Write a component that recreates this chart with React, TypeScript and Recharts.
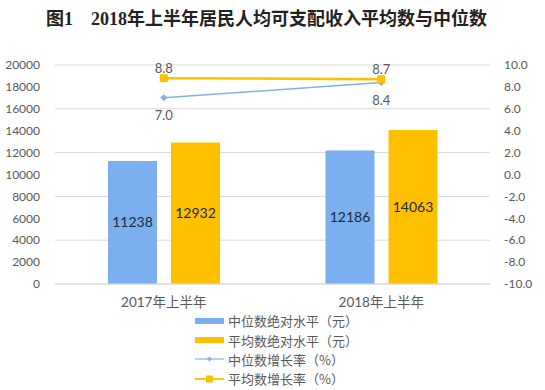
import React from 'react'
import { ComposedChart, Bar, Line, XAxis, YAxis, CartesianGrid, LabelList } from 'recharts'

const categories = ['2017年上半年', '2018年上半年']
const medianIncome = [11238, 12186]
const meanIncome = [12932, 14063]
const medianGrowth = [7.0, 8.4]
const meanGrowth = [8.8, 8.7]

const leftTicks = [0, 2000, 4000, 6000, 8000, 10000, 12000, 14000, 16000, 18000, 20000]
const rightTicks = [-10, -8, -6, -4, -2, 0, 2, 4, 6, 8, 10]

const seriesNames = ['中位数绝对水平（元）', '平均数绝对水平（元）', '中位数增长率（%）', '平均数增长率（%）']

const BLUE = '#7CAFEF'
const GOLD = '#FFC000'
const BLUE_LINE = '#82B0EA'
const GRID = '#d9d9d9'
const TEXT = '#595959'
const NUM_FONT = 'Lato, "Noto Sans CJK SC", sans-serif'

const data = categories.map((name, i) => ({
  name,
  median: medianIncome[i],
  mean: meanIncome[i],
  medianRate: medianGrowth[i],
  meanRate: meanGrowth[i],
}))

const DiamondDot = (props: { cx?: number; cy?: number; index?: number }) => {
  const { cx = 0, cy = 0 } = props
  const r = 3.5
  return <path key={`d-${props.index}`} d={`M${cx},${cy - r}L${cx + r},${cy}L${cx},${cy + r}L${cx - r},${cy}Z`} fill={BLUE_LINE} />
}

const SquareDot = (props: { cx?: number; cy?: number; index?: number }) => {
  const { cx = 0, cy = 0 } = props
  return <rect key={`s-${props.index}`} x={cx - 4} y={cy - 4} width={8} height={8} fill={GOLD} />
}

function LegendIcon({ index }: { index: number }) {
  if (index === 0 || index === 1) {
    return (
      <svg width={29} height={10}>
        <rect x={0} y={2} width={29} height={6} fill={index === 0 ? BLUE : GOLD} />
      </svg>
    )
  }
  const color = index === 2 ? BLUE_LINE : GOLD
  return (
    <svg width={29} height={10}>
      <line x1={0} y1={5} x2={29} y2={5} stroke={color} strokeWidth={index === 2 ? 1.2 : 1.8} />
      {index === 2 ? (
        <path d="M14.5,2.5L17,5L14.5,7.5L12,5Z" fill={color} />
      ) : (
        <rect x={11} y={1.5} width={7} height={7} fill={color} />
      )}
    </svg>
  )
}

export default function App() {
  const fmt = (v: unknown) => Number(v).toFixed(1)

  return (
    <div style={{ position: 'relative', width: 545, height: 390, background: '#fff' }}>
      <style>{`body{margin:0}`}</style>
      <div
        style={{
          position: 'absolute',
          left: 46,
          top: 4,
          fontFamily: '"Liberation Serif", "Noto Sans CJK SC", serif',
          fontWeight: 'bold',
          fontSize: 18,
          color: '#222',
          whiteSpace: 'pre',
        }}
      >
        {'图1\u30002018年上半年居民人均可支配收入平均数与中位数'}
      </div>

      <ComposedChart
        width={545}
        height={390}
        data={data}
        barGap={14}
        margin={{ top: 65, right: 0, bottom: 76, left: 0 }}
      >
        <CartesianGrid vertical={false} stroke={GRID} yAxisId="left" />
        <XAxis
          dataKey="name"
          tickLine={false}
          tickSize={0}
          tickMargin={13}
          height={30}
          axisLine={{ stroke: GRID }}
          tick={{ fill: TEXT, fontSize: 13.5, fontFamily: NUM_FONT }}
        />
        <YAxis
          yAxisId="left"
          width={55}
          domain={[0, 20000]}
          ticks={leftTicks}
          axisLine={false}
          tickLine={false}
          tickSize={0}
          tickMargin={15}
          tick={{ fill: TEXT, fontSize: 12, fontFamily: NUM_FONT }}
        />
        <YAxis
          yAxisId="right"
          orientation="right"
          width={55}
          domain={[-10, 10]}
          ticks={rightTicks}
          tickFormatter={fmt}
          axisLine={false}
          tickLine={false}
          tickSize={0}
          tickMargin={14}
          tick={{ fill: TEXT, fontSize: 12, fontFamily: NUM_FONT, textAnchor: 'start' }}
        />
        <Bar yAxisId="left" dataKey="median" fill={BLUE} barSize={49} isAnimationActive={false}>
          <LabelList dataKey="median" position="center" fill="#1d2a3a" fontSize={14} fontFamily={NUM_FONT} />
        </Bar>
        <Bar yAxisId="left" dataKey="mean" fill={GOLD} barSize={49} isAnimationActive={false}>
          <LabelList dataKey="mean" position="center" fill="#1d2a3a" fontSize={14} fontFamily={NUM_FONT} />
        </Bar>
        <Line
          yAxisId="right"
          dataKey="medianRate"
          stroke={BLUE_LINE}
          strokeWidth={1.5}
          dot={<DiamondDot />}
          activeDot={false}
          isAnimationActive={false}
        >
          <LabelList dataKey="medianRate" position="bottom" offset={13} formatter={fmt} fill={TEXT} fontSize={13} fontFamily={NUM_FONT} />
        </Line>
        <Line
          yAxisId="right"
          dataKey="meanRate"
          stroke={GOLD}
          strokeWidth={2.5}
          dot={<SquareDot />}
          activeDot={false}
          isAnimationActive={false}
        >
          <LabelList dataKey="meanRate" position="top" offset={5} formatter={fmt} fill={TEXT} fontSize={13} fontFamily={NUM_FONT} />
        </Line>
      </ComposedChart>

      <div style={{ position: 'absolute', left: 195, top: 311 }}>
        {seriesNames.map((name, i) => (
          <div key={name} style={{ display: 'flex', alignItems: 'center', height: 19.4 }}>
            <LegendIcon index={i} />
            <span
              style={{
                marginLeft: 4,
                fontSize: 13,
                color: TEXT,
                fontFamily: '"Noto Sans CJK SC", sans-serif',
                lineHeight: '19px',
              }}
            >
              {name}
            </span>
          </div>
        ))}
      </div>
    </div>
  )
}
